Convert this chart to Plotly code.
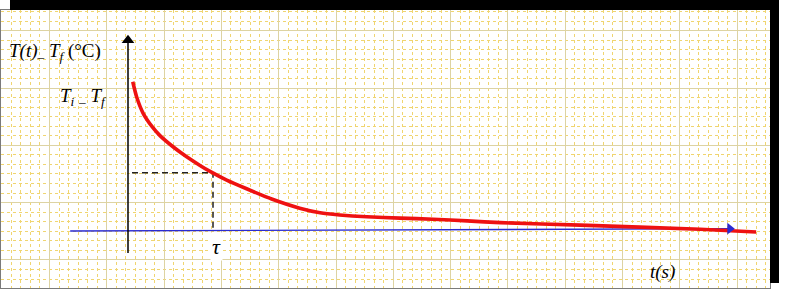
import plotly.graph_objects as go

# ---- data (t in units of tau, v = (T - Tf)/(Ti - Tf) scaled) ----
curve_t = [0.056, 0.102, 0.180, 0.279, 0.376, 0.533, 0.690, 0.847, 0.965, 1.161,
           1.396, 1.690, 2.020, 2.260, 2.490, 2.810, 3.200, 3.590, 3.990, 4.380,
           5.320, 6.730, 7.390]
curve_v = [0.947, 0.850, 0.745, 0.665, 0.605, 0.533, 0.471, 0.416, 0.378, 0.323,
           0.268, 0.203, 0.145, 0.116, 0.102, 0.090, 0.082, 0.075, 0.064, 0.053,
           0.037, 0.011, -0.006]

tau = 1.0
v_tau = 0.370
dash_t = [0.047, tau, tau]
dash_v = [v_tau, v_tau, 0.0]

yaxis_t = [0.0, 0.0]
yaxis_v = [-0.14, 1.21]
xaxis_t = [-0.68, 7.08]
xaxis_v = [0.0, 0.015]

label_ylabel = "<i>T(t)</i><sub>–</sub> <i>T<sub>f</sub></i> (°C)"
label_ti = "<i>T<sub>i</sub></i> <sub>–</sub> <i>T<sub>f</sub></i>"
label_tau = "<i>τ</i>"
label_ts = "<i>t(s)</i>"

XMIN, XMAX = (1 - 128) / 85, (770 - 128) / 85
YMIN, YMAX = (231 - 288) / 157.6, (231 - 10) / 157.6

fig = go.Figure()

fig.add_trace(go.Scatter(x=xaxis_t, y=xaxis_v, mode="lines",
                         line=dict(color="#2a2ad0", width=1.4), hoverinfo="skip"))
fig.add_trace(go.Scatter(x=yaxis_t, y=yaxis_v, mode="lines",
                         line=dict(color="#000000", width=1.5), hoverinfo="skip"))
fig.add_trace(go.Scatter(x=[yaxis_t[-1]], y=[yaxis_v[-1]], mode="markers",
                         marker=dict(symbol="triangle-up", size=11, color="#000000"),
                         hoverinfo="skip"))
fig.add_trace(go.Scatter(x=dash_t, y=dash_v, mode="lines",
                         line=dict(color="#222222", width=1.5, dash="6px,4px"),
                         hoverinfo="skip"))
fig.add_trace(go.Scatter(x=curve_t, y=curve_v, mode="lines",
                         line=dict(color="#ee1111", width=3.6, shape="spline", smoothing=0.6),
                         hoverinfo="skip"))
fig.add_trace(go.Scatter(x=[xaxis_t[-1]], y=[xaxis_v[-1]], mode="markers",
                         marker=dict(symbol="triangle-right", size=10, color="#2a2ad0"),
                         hoverinfo="skip"))

font = dict(family="Liberation Serif", size=19, color="#000000")
fig.add_annotation(x=-0.86, y=1.136, text=label_ylabel, showarrow=False, font=font)
fig.add_annotation(x=-0.52, y=0.850, text=label_ti, showarrow=False, font=font)
fig.add_annotation(x=1.04, y=-0.10, text=label_tau, showarrow=False,
                   font=dict(family="Liberation Serif", size=22, color="#000000"),
                   bgcolor="#ffffff")
fig.add_annotation(x=6.29, y=-0.26, text=label_ts, showarrow=False, font=font)

# shadow frame (top and right black bars)
fig.add_shape(type="path", xref="paper", yref="paper",
              path="M 0.0117 1.0 L 0.0117 1.036 L 1.0117 1.036 L 1.0117 0.018 L 1.0 0.018 L 1.0 1.0 Z",
              fillcolor="#000000", line=dict(width=0))

major_x = 57.3 / 85
major_y = 57.3 / 157.6
grid_common = dict(showticklabels=False, ticks="", zeroline=False,
                   showline=True, mirror=True, linecolor="#7a7a7a", linewidth=1,
                   showgrid=True, gridcolor="#ddd3a2", gridwidth=1)

fig.update_xaxes(range=[XMIN, XMAX], tick0=(106.8 - 128) / 85, dtick=major_x,
                 minor=dict(tick0=(106.8 - 128) / 85, dtick=major_x / 6, showgrid=True,
                            gridcolor="#f0d570", gridwidth=1, griddash="dot"),
                 **grid_common)
fig.update_yaxes(range=[YMIN, YMAX], tick0=(231 - 88) / 157.6, dtick=major_y,
                 minor=dict(tick0=(231 - 88) / 157.6, dtick=major_y / 6, showgrid=True,
                            gridcolor="#f0d570", gridwidth=1, griddash="dot"),
                 **grid_common)

fig.update_layout(width=795, height=290, margin=dict(l=1, r=25, t=10, b=2),
                  paper_bgcolor="#ffffff", plot_bgcolor="#ffffff", showlegend=False)

fig.write_html("out.html")
